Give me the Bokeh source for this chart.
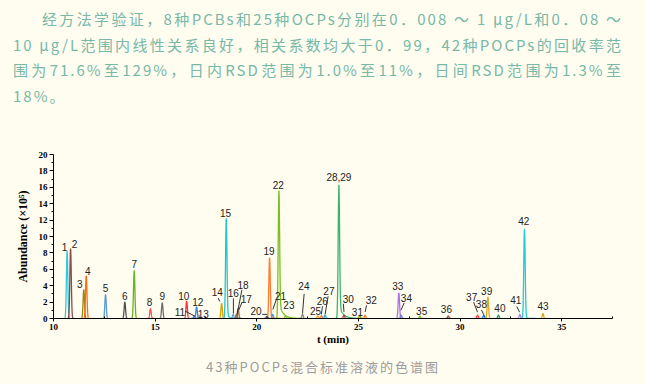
import numpy as np
from bokeh.plotting import figure
from bokeh.models import ColumnDataSource, Div, FixedTicker, Range1d, GlobalInlineStyleSheet
from bokeh.layouts import column
from bokeh.embed import file_html
from bokeh.resources import INLINE
from bokeh.core.properties import value

# ---------------- data ----------------
peak_names = ["1", "2", "3", "4", "5", "6", "7", "8", "9", "10", "11", "12", "13", "14", "15",
              "16", "17", "18", "19", "20", "21", "22", "23", "24", "25", "26", "27", "28,29",
              "30", "31", "32", "33", "34", "35", "36", "37", "38", "39", "40", "41", "42", "43"]
peak_rt = [10.67, 10.84, 11.49, 11.61, 12.56, 13.51, 13.97, 14.77, 15.35, 16.55, 16.92, 17.04,
           17.15, 18.27, 18.50, 18.84, 19.08, 19.00, 20.63, 20.50, 20.78, 21.09, 21.40, 22.25,
           23.00, 23.18, 23.36, 24.04, 24.29, 25.07, 25.33, 26.99, 27.10, 28.03, 29.42, 30.86,
           31.17, 31.37, 31.89, 32.94, 33.17, 34.08]
peak_height = [8.2, 8.5, 3.5, 5.2, 2.9, 2.0, 5.8, 1.2, 1.9, 2.1, 0.3, 1.4, 0.4, 1.8, 12.2,
               0.5, 1.2, 0.5, 7.4, 0.25, 0.5, 15.6, 0.3, 0.5, 0.3, 0.35, 0.4, 16.3, 0.4, 0.4,
               0.4, 3.1, 0.4, 0.3, 0.3, 0.4, 0.4, 2.6, 0.4, 0.5, 10.9, 0.6]

y_ticks = [0, 2, 4, 6, 8, 10, 12, 14, 16, 18, 20]
y_minor = [1, 3, 5, 7, 9, 11, 13, 15, 17, 19]
x_ticks = [10, 15, 20, 25, 30, 35]
x_minor = [12.5, 17.5, 22.5, 27.5, 32.5, 37.5]

paragraph_lines = [
    "经方法学验证，8种PCBs和25种OCPs分别在0．008 ～ 1 μg/L和0．08 ～",
    "10 μg/L范围内线性关系良好，相关系数均大于0．99，42种POCPs的回收率范",
    "围为71.6%至129%，日内RSD范围为1.0%至11%，日间RSD范围为1.3%至",
    "18%。",
]
caption = "43种POCPs混合标准溶液的色谱图"

# ---------------- styles / annotation layout ----------------
peak_color = ["#35c6da", "#8c4b4b", "#8f8a1f", "#ff6a10", "#5b9bd5", "#505050", "#6ab41e",
              "#ff5050", "#707070", "#ff3030", "#4a80d0", "#3a80e0", "#70a0e0", "#d9a300",
              "#22c4d4", "#6aa0e0", "#9a6040", "#8a7a40", "#ff7a30", "#404040", "#4a90e0",
              "#7cbf1e", "#90c040", "#808080", "#f0a030", "#ff8040", "#20b0e0", "#3cb371",
              "#a05050", "#909a20", "#ff8030", "#b070e8", "#7080d0", "#70c030", "#b04040",
              "#ff4040", "#2070e0", "#e0a820", "#20a060", "#b080e0", "#22c8d8", "#e0a020"]
peak_tail = {"15": (0.05, 0.12), "19": (0.05, 0.08), "22": (0.12, 0.2), "28,29": (0.1, 0.2),
             "42": (0.03, 0.08)}
label_t = [10.54, 11.03, 11.29, 11.69, 12.56, 13.51, 13.97, 14.72, 15.35, 16.41, 16.22, 17.10,
           17.37, 18.06, 18.46, 18.84, 19.48, 19.32, 20.60, 19.96, 21.17, 21.06, 21.58, 22.32,
           22.89, 23.22, 23.55, 24.04, 24.50, 24.95, 25.63, 26.94, 27.36, 28.11, 29.33, 30.57,
           31.05, 31.31, 31.96, 32.74, 33.14, 34.08]
label_h = [8.78, 9.1, 4.23, 5.85, 3.7, 2.8, 6.67, 2.0, 2.8, 2.72, 0.85, 2.0, 0.57, 3.2, 12.85,
           3.1, 2.4, 4.1, 8.21, 0.89, 2.8, 16.3, 1.59, 4.02, 0.89, 2.08, 3.3, 17.23, 2.4, 0.77,
           2.2, 4.02, 2.52, 0.89, 1.1, 2.68, 1.71, 3.41, 1.3, 2.28, 11.9, 1.5]
lead_x0 = [16.47, 18.10, 18.85, 19.28, 19.27, 20.27, 20.96, 22.33, 23.23, 23.51, 24.26, 25.40, 27.25, 30.67, 31.05, 32.79]
lead_y0 = [0.9, 2.5, 2.45, 2.0, 3.5, 0.5, 2.3, 3.0, 1.5, 2.7, 1.8, 1.6, 1.9, 2.0, 1.05, 1.46]
lead_x1 = [16.95, 18.18, 18.85, 19.11, 19.03, 20.51, 20.79, 22.25, 23.18, 23.36, 24.29, 25.33, 27.09, 30.86, 31.17, 32.93]
lead_y1 = [0.3, 2.07, 0.6, 1.0, 0.45, 0.5, 1.1, 0.6, 0.5, 0.5, 0.8, 0.8, 1.0, 0.77, 0.45, 0.77]

BG = "#fffdf0"
SIG = 0.035

xs, ys = [], []
for name, rt, h in zip(peak_names, peak_rt, peak_height):
    a, tau = peak_tail.get(name, (0.0, 0.0))
    t = np.linspace(rt - 4 * SIG, rt + 4 * SIG + 5 * tau, 120)
    d = t - rt
    g = np.exp(-0.5 * (d / SIG) ** 2)
    if a > 0:
        tl = np.where(d > 0, np.exp(-np.clip(d, 0, None) / tau), g)
        y = h * ((1 - a) * g + a * tl)
    else:
        y = h * g
    xs.append(t.tolist())
    ys.append(y.tolist())

peaks = ColumnDataSource(dict(xs=xs, ys=ys, color=peak_color))
labels = ColumnDataSource(dict(x=label_t, y=label_h, text=peak_names))
leads = ColumnDataSource(dict(x0=lead_x0, y0=lead_y0, x1=lead_x1, y1=lead_y1))

p = figure(width=630, height=238, x_range=Range1d(10, 37.5), y_range=Range1d(0, 20),
           output_backend="svg", toolbar_location=None,
           min_border_left=45, min_border_right=26, min_border_top=34, min_border_bottom=40,
           background_fill_color=BG, border_fill_color=BG, outline_line_color=None)
p.grid.visible = False

p.multi_line(xs="xs", ys="ys", line_color="color", line_width=1.3, source=peaks)
p.segment(x0="x0", y0="y0", x1="x1", y1="y1", line_color="#333333", line_width=1, source=leads)
p.text(x="x", y="y", text="text", source=labels, text_align="center", text_baseline="middle",
       text_font=value("Liberation Sans"), text_font_size=value("10px"), text_color="#222222")

for ax in (p.xaxis[0], p.yaxis[0]):
    ax.axis_line_color = "black"
    ax.major_tick_line_color = "black"
    ax.minor_tick_line_color = "black"
    ax.major_label_text_font = "Liberation Serif"
    ax.major_label_text_font_style = "bold"
    ax.major_label_text_font_size = "9px"
    ax.major_label_text_color = "black"
    ax.axis_label_text_font = "Liberation Serif"
    ax.axis_label_text_font_style = "bold"
    ax.axis_label_text_color = "black"

p.yaxis.ticker = FixedTicker(ticks=y_ticks, minor_ticks=y_minor)
p.yaxis.major_tick_out = 4
p.yaxis.major_tick_in = 0
p.yaxis.minor_tick_out = 2
p.yaxis.minor_tick_in = 0
p.yaxis.major_label_standoff = 2
p.yaxis.axis_label = "Abundance (×10⁵)"
p.yaxis.axis_label_text_font_size = "12px"
p.yaxis.axis_label_standoff = 6

p.xaxis.ticker = FixedTicker(ticks=x_ticks, minor_ticks=x_minor)
p.xaxis.major_tick_out = 3
p.xaxis.major_tick_in = 0
p.xaxis.minor_tick_out = 0
p.xaxis.minor_tick_in = 2
p.xaxis.major_label_standoff = 2
p.xaxis.axis_label = "t (min)"
p.xaxis.axis_label_text_font_size = "11px"
p.xaxis.axis_label_standoff = 0

line_styles = [
    "text-align:justify;text-align-last:justify;padding-left:29px;",
    "text-align:justify;text-align-last:justify;",
    "text-align:justify;text-align-last:justify;",
    "",
]
para_html = "".join(
    f'<div style="white-space:nowrap;{st}">{ln}</div>' for ln, st in zip(paragraph_lines, line_styles)
)
para = Div(
    text=f'<div style="font-family:\'Noto Sans CJK SC\',sans-serif;font-size:15px;color:#78b8a7;'
         f'line-height:25.5px;letter-spacing:2px;width:615px;padding-left:5px;margin-top:-2px;">{para_html}</div>',
    width=630, height=112, margin=0,
)
cap = Div(
    text=f'<div style="font-family:\'Noto Sans CJK SC\',sans-serif;font-size:13px;color:#9c9c9c;'
         f'letter-spacing:2px;line-height:18px;width:630px;text-align:center;">{caption}</div>',
    width=630, height=18, margin=0,
)
p.margin = 0

layout = column(para, p, cap, spacing=0, margin=(8, 8, 8, 8),
                stylesheets=[GlobalInlineStyleSheet(css=f"html, body {{ background-color: {BG}; }}")])
layout.styles = {"background-color": BG}

open("out.html", "w").write(file_html(layout, INLINE))
